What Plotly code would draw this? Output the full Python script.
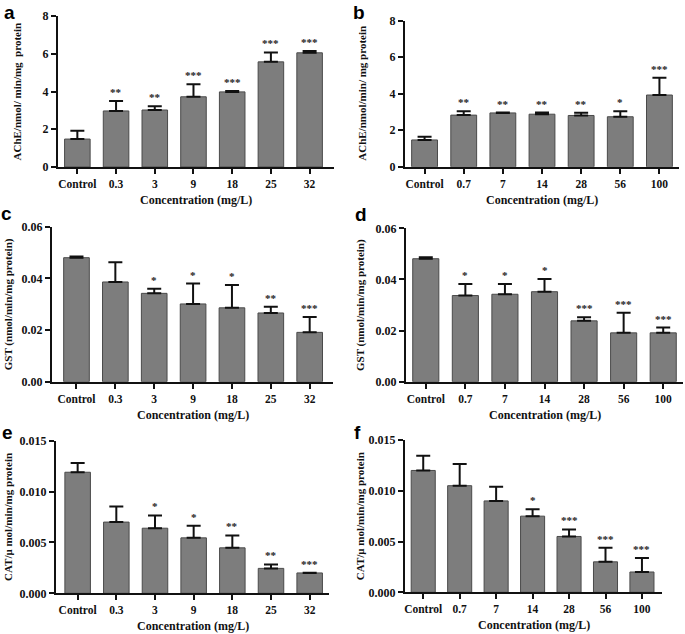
import plotly.graph_objects as go

W, H = 685, 634

# ---------------- data ----------------
cats_left = ["Control", "0.3", "3", "9", "18", "25", "32"]
cats_right = ["Control", "0.7", "7", "14", "28", "56", "100"]

ache_a = [1.48, 2.97, 3.02, 3.72, 3.98, 5.57, 6.05]
ache_a_err = [0.44, 0.53, 0.20, 0.66, 0.05, 0.50, 0.10]
ache_a_sig = ["", "**", "**", "***", "***", "***", "***"]

ache_b = [1.47, 2.83, 2.95, 2.88, 2.81, 2.74, 3.93]
ache_b_err = [0.17, 0.21, 0.02, 0.09, 0.15, 0.30, 0.94]
ache_b_sig = ["", "**", "**", "**", "**", "*", "***"]

gst_c = [0.0480, 0.0386, 0.0342, 0.0301, 0.0286, 0.0266, 0.0191]
gst_c_err = [0.0005, 0.0076, 0.0018, 0.0079, 0.0088, 0.0024, 0.0059]
gst_c_sig = ["", "", "*", "*", "*", "**", "***"]

gst_d = [0.0481, 0.0337, 0.0342, 0.0352, 0.0238, 0.0191, 0.0191]
gst_d_err = [0.0006, 0.0045, 0.0040, 0.0050, 0.0014, 0.0079, 0.0021]
gst_d_sig = ["", "*", "*", "*", "***", "***", "***"]

cat_e = [0.0119, 0.0070, 0.0064, 0.00545, 0.00447, 0.00245, 0.0020]
cat_e_err = [0.0009, 0.00153, 0.00125, 0.00118, 0.00122, 0.00039, 0.00002]
cat_e_sig = ["", "", "*", "*", "**", "**", "***"]

cat_f = [0.0120, 0.0105, 0.0090, 0.0075, 0.0055, 0.0030, 0.0020]
cat_f_err = [0.00146, 0.00214, 0.0014, 0.00067, 0.00069, 0.0014, 0.00139]
cat_f_sig = ["", "", "", "*", "***", "***", "***"]

ytitle_a = "AChE/nmol/ min/mg  protein"
ytitle_b = "AChE/nmol/min/ mg protein"
ytitle_gst = "GST (nmol/min/mg protein)"
ytitle_cat = "CAT/μ mol/min/mg protein"
xtitle = "Concentration (mg/L)"

panels = [
    # letter, cats, values, errors, sig, ytitle, yrange, dtick, fmt
    ("a", cats_left, ache_a, ache_a_err, ache_a_sig, ytitle_a, [0, 8], 2, "d"),
    ("b", cats_right, ache_b, ache_b_err, ache_b_sig, ytitle_b, [0, 8], 2, "d"),
    ("c", cats_left, gst_c, gst_c_err, gst_c_sig, ytitle_gst, [0, 0.06], 0.02, ".2f"),
    ("d", cats_right, gst_d, gst_d_err, gst_d_sig, ytitle_gst, [0, 0.06], 0.02, ".2f"),
    ("e", cats_left, cat_e, cat_e_err, cat_e_sig, ytitle_cat, [0, 0.015], 0.005, ".3f"),
    ("f", cats_right, cat_f, cat_f_err, cat_f_sig, ytitle_cat, [0, 0.015], 0.005, ".3f"),
]

# ---------------- layout geometry (pixels) ----------------
geom = [
    # x0, x1, ytop, ybottom, xrange, ytitle_x, letter_x, letter_top
    (58, 334, 16, 167, [-0.5, 6.63], 16, 9, 0),
    (405, 679, 20.7, 166.8, [-0.5, 6.5], 362, 359, 0),
    (52, 333, 226.7, 381.7, [-0.63, 6.6], 8, 6, 201),
    (406, 683, 228.3, 381.7, [-0.5, 6.5], 360, 361, 202),
    (56, 329, 440.7, 593.3, [-0.56, 6.5], 8, 7, 420),
    (405, 662, 440, 592.3, [-0.5, 6.55], 360, 357, 420),
]

serif = "Liberation Serif"
fig = go.Figure()
annotations = []
layout_axes = {}

for i, (p, g) in enumerate(zip(panels, geom)):
    letter, cats, vals, errs, sig, ytitle, yr, dt, fmt = p
    x0, x1, yt, yb, xr, ytx, lx, ly = g
    n = i + 1
    xa = "x" if n == 1 else f"x{n}"
    ya = "y" if n == 1 else f"y{n}"
    fig.add_trace(go.Bar(
        x=cats, y=vals, xaxis=xa, yaxis=ya, width=0.66,
        marker=dict(color="#7d7d7d", line=dict(color="#4a4a4a", width=1)),
        error_y=dict(type="data", symmetric=False, array=errs,
                     arrayminus=[0] * len(errs), color="#111111",
                     thickness=2, width=7),
        showlegend=False, hoverinfo="skip",
    ))
    xkey = "xaxis" if n == 1 else f"xaxis{n}"
    ykey = "yaxis" if n == 1 else f"yaxis{n}"
    layout_axes[xkey] = dict(
        domain=[x0 / W, x1 / W], anchor=ya, type="category",
        range=xr, showline=True, linecolor="#111111", linewidth=2,
        ticks="outside", ticklen=5, tickwidth=2, tickcolor="#111111",
        showgrid=False, zeroline=False, automargin=False,
        tickfont=dict(family=serif, size=11.5, color="#111111", weight="bold"),
    )
    layout_axes[ykey] = dict(
        domain=[1 - yb / H, 1 - yt / H], anchor=xa,
        range=yr, dtick=dt, tick0=0, tickformat=fmt,
        showline=True, linecolor="#111111", linewidth=2,
        ticks="outside", ticklen=5, tickwidth=2, tickcolor="#111111",
        showgrid=False, zeroline=False, automargin=False,
        tickfont=dict(family=serif, size=12, color="#111111", weight="bold"),
    )
    # significance stars (x given as category index)
    for k, (v, e, s) in enumerate(zip(vals, errs, sig)):
        if s:
            annotations.append(dict(
                x=k, y=v + e, xref=xa, yref=ya, text=s, showarrow=False,
                yanchor="bottom", yshift=1,
                font=dict(family=serif, size=11, color="#222222", weight="bold"),
            ))
    # y title
    annotations.append(dict(
        x=ytx / W, y=1 - (yt + yb) / 2 / H, xref="paper", yref="paper",
        text=ytitle, textangle=-90, showarrow=False,
        xanchor="center", yanchor="middle",
        font=dict(family=serif, size=11, color="#111111", weight="bold"),
    ))
    # x title
    annotations.append(dict(
        x=(x0 + x1) / 2 / W, y=1 - (yb + 33) / H, xref="paper", yref="paper",
        text=xtitle, showarrow=False, xanchor="center", yanchor="middle",
        font=dict(family=serif, size=12, color="#111111", weight="bold"),
    ))
    # panel letter
    annotations.append(dict(
        x=lx / W, y=1 - ly / H, xref="paper", yref="paper",
        text=letter, showarrow=False, xanchor="center", yanchor="top",
        font=dict(family="Liberation Sans", size=19, color="#000000", weight="bold"),
    ))

fig.update_layout(
    width=W, height=H, autosize=False,
    margin=dict(l=0, r=0, t=0, b=0, pad=0),
    paper_bgcolor="white", plot_bgcolor="white",
    annotations=annotations,
    **layout_axes,
)

fig.write_html(
    "out.html",
    config={"displayModeBar": False, "staticPlot": True},
    post_script="document.body.style.margin='0';document.body.style.overflow='hidden';",
)
